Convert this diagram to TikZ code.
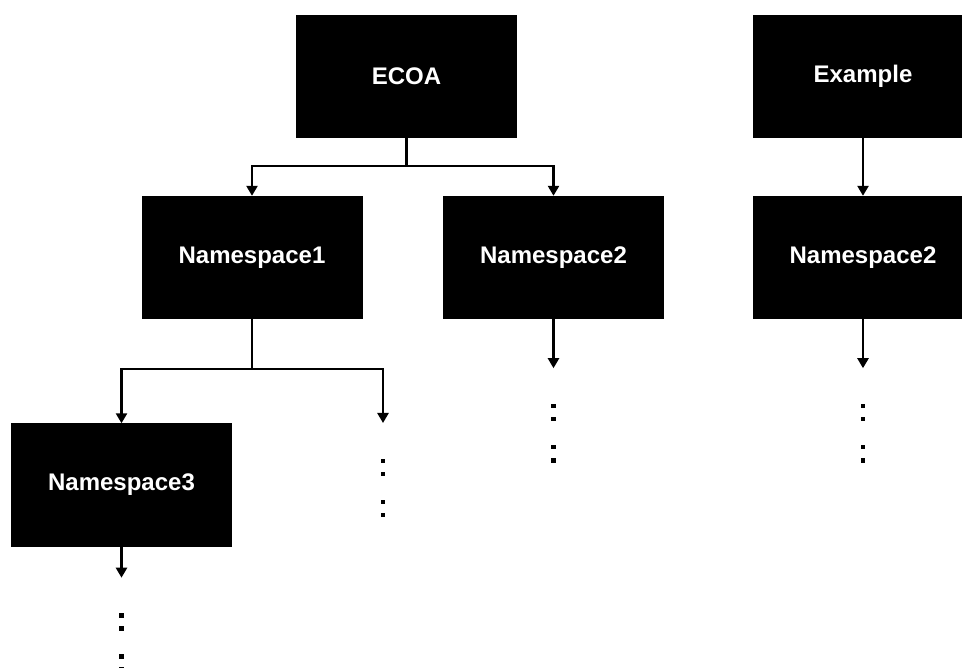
\documentclass[tikz,border=0pt]{standalone}
\usepackage{fontspec}
\setmainfont{Liberation Sans}
\usepackage{tikz}
\usetikzlibrary{arrows.meta,positioning,calc}
\tikzset{
  nsbox/.style={rectangle,fill=black,text=white,minimum width=221pt,
    minimum height=123pt,inner sep=0pt,
    font=\fontsize{24}{28}\selectfont\bfseries},
  link/.style={line width=2.4pt},
  dot/.style={fill=black},
}
\tikzstyle{arrow} = [line width=2.4pt,-{Triangle[length=10pt,width=11pt]}]
% small vertical ellipsis of four dots below a point
\newcommand{\moredots}[1]{%
  \foreach \dy in {38,51,79,92}
    \fill[dot] ($(#1)+(-2.3,\dy-2.3)$) rectangle ++(4.6,4.6);
}

\begin{document}
\begin{tikzpicture}[x=1pt,y=-1pt]
  \useasboundingbox (0,0) rectangle (962,668);
  % top level
  \node[nsbox] (ecoa) at (406.5,76.5) {ECOA};
  \node[nsbox] (example) at (863,76.5) {Example};
  % second level
  \node[nsbox] (ns1) at (252,257.5) {Namespace1};
  \node[nsbox] (ns2) at (553.5,257.5) {Namespace2};
  \node[nsbox] (ns2b) at (863,257.5) {Namespace2};
  % third level
  \node[nsbox] (ns3) at (121.5,485) {Namespace3};

  \coordinate (fork1) at (ecoa.south |- 0,166);
  \coordinate (fork2) at (ns1.south |- 0,369);
  \coordinate (end1) at (383,423);
  \coordinate (end2) at ($(ns2.south)+(0,49)$);
  \coordinate (end3) at ($(ns2b.south)+(0,49)$);
  \coordinate (end4) at ($(ns3.south)+(0,31)$);

  \draw[link] (ecoa.south) -- (fork1);
  \draw[arrow] (fork1) -| (ns1.north);
  \draw[arrow] (fork1) -| (ns2.north);
  \draw[arrow] (example.south) -- (ns2b.north);
  \draw[link] (ns1.south) -- (fork2);
  \draw[arrow] (fork2) -| (ns3.north);
  \draw[arrow] (fork2) -| (end1);
  \draw[arrow] (ns2.south) -- (end2);
  \draw[arrow] (ns2b.south) -- (end3);
  \draw[arrow] (ns3.south) -- (end4);

  % continuation dots
  \moredots{end1}
  \moredots{end2}
  \moredots{end3}
  \moredots{end4}
\end{tikzpicture}
\end{document}
